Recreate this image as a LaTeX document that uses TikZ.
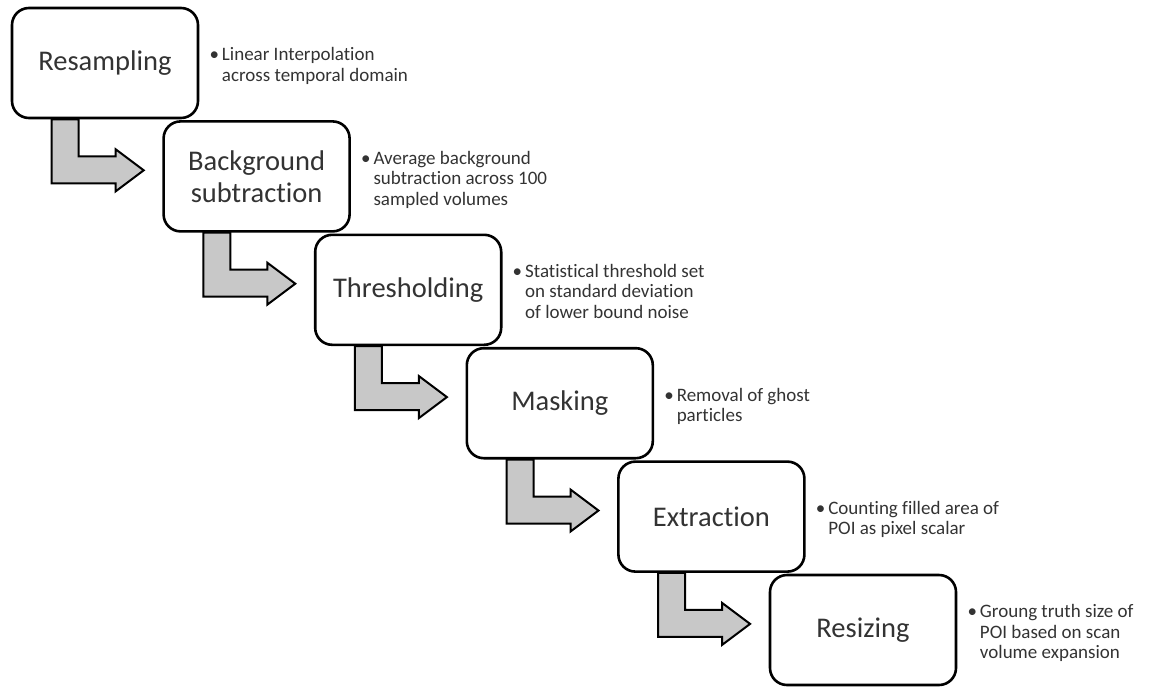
\documentclass[tikz,border=0pt]{standalone}
\usepackage{fontspec}
\setmainfont{Carlito}[Ligatures=NoCommon]
\usetikzlibrary{positioning,calc}
\definecolor{StepGray}{HTML}{C8C8C8}
\definecolor{TextDark}{HTML}{333333}

\begin{document}
\begin{tikzpicture}[
    x=1pt, y=-1pt,
    stepbox/.style={draw=black, rounded corners=17pt, fill=white, line width=2.6pt, minimum width=186pt, minimum height=110pt, align=center, text=TextDark, font=\fontsize{28.5}{32}\selectfont},
    note/.style={inner sep=0pt, text=TextDark, font=\fontsize{19}{20.5}\selectfont, yshift=-4pt},
    turnarrow/.style={draw=black, fill=StepGray, line width=2pt, line join=miter}
]

  \useasboundingbox (0,0) rectangle (1167,688);

  % =========================================================================
  % ETAPAS (CASCATA)
  % =========================================================================
  \node[stepbox] (res) at (105, 63) {Resampling};
  \node[stepbox] (bgs) at (256.6, 176.4) {Background\\subtraction};
  \node[stepbox] (thr) at (408.2, 289.8) {Thresholding};
  \node[stepbox] (msk) at (559.8, 403.2) {Masking};
  \node[stepbox] (ext) at (711.4, 516.6) {Extraction};
  \node[stepbox] (rsz) at (863, 630) {Resizing};

  % =========================================================================
  % NOTAS
  % =========================================================================
  \node[note, right=10pt of res] (n_res) {\begin{tabular}{@{}l@{\hspace{3pt}}l@{}}\textbullet & Linear Interpolation\\ & across temporal domain\end{tabular}};
  \node[note, right=10pt of bgs] (n_bgs) {\begin{tabular}{@{}l@{\hspace{3pt}}l@{}}\textbullet & Average background\\ & subtraction across 100\\ & sampled volumes\end{tabular}};
  \node[note, right=10pt of thr] (n_thr) {\begin{tabular}{@{}l@{\hspace{3pt}}l@{}}\textbullet & Statistical threshold set\\ & on standard deviation\\ & of lower bound noise\end{tabular}};
  \node[note, right=10pt of msk] (n_msk) {\begin{tabular}{@{}l@{\hspace{3pt}}l@{}}\textbullet & Removal of ghost\\ & particles\end{tabular}};
  \node[note, right=10pt of ext] (n_ext) {\begin{tabular}{@{}l@{\hspace{3pt}}l@{}}\textbullet & Counting filled area of\\ & POI as pixel scalar\end{tabular}};
  \node[note, right=10pt of rsz] (n_rsz) {\begin{tabular}{@{}l@{\hspace{3pt}}l@{}}\textbullet & Groung truth size of\\ & POI based on scan\\ & volume expansion\end{tabular}};

  % =========================================================================
  % SETAS
  % =========================================================================
  \foreach \a in {res, bgs, thr, msk, ext} {
    \draw[turnarrow] ($(\a.south west)+(41,0)$) -- ++(0,64) -- ++(64,0) -- ++(0,8) -- ++(28,-21) -- ++(-28,-21) -- ++(0,7) -- ++(-37,0) -- ++(0,-37) -- cycle;
  }

\end{tikzpicture}
\end{document}
